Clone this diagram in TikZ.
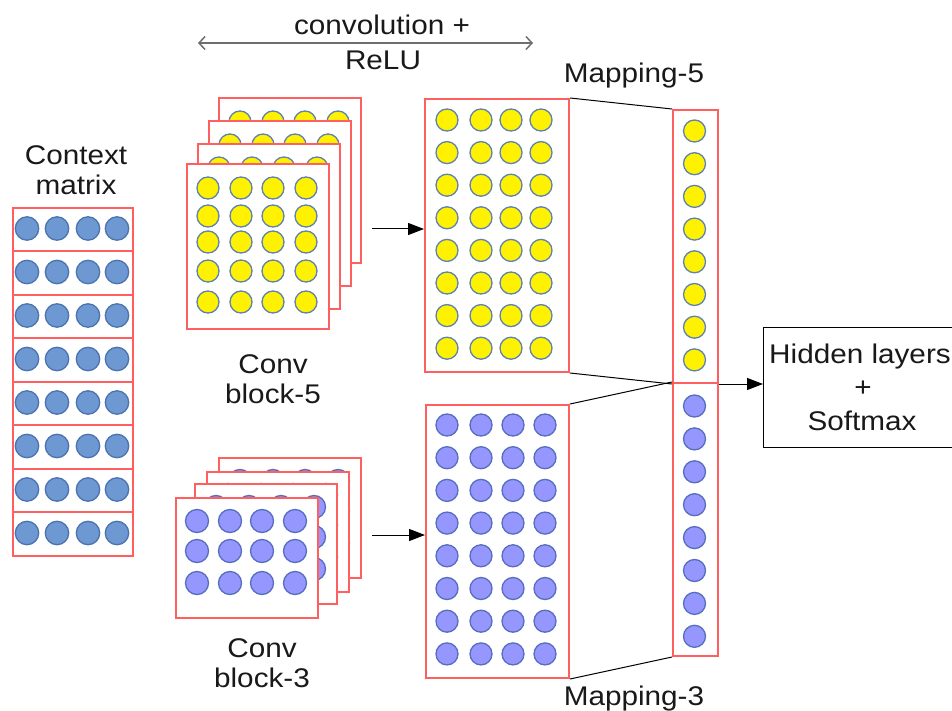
\documentclass[tikz,border=0pt]{standalone}
\usepackage{fontspec}
\setmainfont{Liberation Sans}[FakeStretch=1.1]
\usetikzlibrary{arrows.meta}
\definecolor{boxred}{RGB}{255,95,95}
\definecolor{cborder}{RGB}{95,130,175}
\definecolor{ctxblue}{RGB}{110,152,210}
\definecolor{ctxborder}{RGB}{75,115,175}
\definecolor{purp}{RGB}{150,150,255}
\definecolor{purpborder}{RGB}{85,110,190}
\definecolor{arrgray}{RGB}{110,110,110}
\tikzset{
  redbox/.style={draw=boxred, line width=2pt, fill=white, inner sep=0pt, anchor=north west},
  ycirc/.style={fill=yellow, draw=cborder, line width=1.3pt},
  bcirc/.style={fill=ctxblue, draw=ctxborder, line width=1.3pt},
  pcirc/.style={fill=purp, draw=purpborder, line width=1.3pt},
  lbl/.style={font=\fontsize{27}{30}\selectfont, anchor=base, inner sep=0pt, text=black!90},
  conn/.style={draw=black, line width=1pt},
  tip/.style={-{Triangle[length=16pt,width=12pt]}},
}
\begin{document}
\begin{tikzpicture}[x=1pt,y=-1pt]
\useasboundingbox (0,0) rectangle (952,711);

% ---- Context matrix ----
\foreach \i/\t/\h in {0/207/43,1/250/44,2/294/43,3/337/44,4/381/43,5/424/44,6/468/43,7/511/44} {
  \node[redbox, fill=none, minimum width=120pt, minimum height=\h pt] (ctx\i) at (12,\t) {};
  \foreach \cx in {27,57,88,117}
    \draw[bcirc] (\cx,{\t+\h/2}) circle[radius=11.7pt];
}
\node[lbl] (ctxlblA) at (76,165) {Context};
\node[lbl] (ctxlblB) at (76,195) {matrix};

% ---- Conv block-5 ----
\foreach \k/\lx/\ty in {3/218/97, 2/208/120, 1/197/143, 0/186/163} {
  \node[redbox, minimum width=142pt, minimum height=165pt] (cbf\k) at (\lx,\ty) {};
  \foreach \rx in {22,55,87,120}
    \foreach \ry in {25,53,79,108,139}
      \draw[ycirc] ({\lx+\rx},{\ty+\ry}) circle[radius=11pt];
}
\node[lbl] (cbflblA) at (273,373) {Conv};
\node[lbl] (cbflblB) at (273,403) {block-5};

% ---- Conv block-3 ----
\foreach \k/\lx/\ty in {3/218/457, 2/206/471, 1/194/483, 0/175/497} {
  \node[redbox, minimum width=142pt, minimum height=120pt] (cbt\k) at (\lx,\ty) {};
  \foreach \rx in {22,55,87,120}
    \foreach \ry in {24,54,86}
      \draw[pcirc] ({\lx+\rx},{\ty+\ry}) circle[radius=11.5pt];
}
\node[lbl] (cbtlblA) at (262,657) {Conv};
\node[lbl] (cbtlblB) at (262,687) {block-3};

% ---- Mapping-5 ----
\node[redbox, minimum width=144pt, minimum height=273pt] (mfbig) at (424,98) {};
\foreach \cx in {447,481,511,541}
  \foreach \i in {0,...,7}
    \draw[ycirc] (\cx,{120+32.6*\i}) circle[radius=11pt];
\node[redbox, minimum width=45pt, minimum height=273pt] (mfcol) at (672,109) {};
\foreach \i in {0,...,7}
  \draw[ycirc] (694.5,{131+32.7*\i}) circle[radius=11pt];
\node[lbl] (mflbl) at (634,83) {Mapping-5};

% ---- Mapping-3 ----
\node[redbox, minimum width=143pt, minimum height=273pt] (mtbig) at (425,404) {};
\foreach \cx in {447,481,513,545}
  \foreach \i in {0,...,7}
    \draw[pcirc] (\cx,{425+32.7*\i}) circle[radius=11pt];
\node[redbox, minimum width=45pt, minimum height=273pt] (mtcol) at (672,382) {};
\foreach \i in {0,...,7}
  \draw[pcirc] (694.5,{406+32.9*\i}) circle[radius=11pt];
\node[lbl] (mtlbl) at (634,705) {Mapping-3};

% ---- connectors between mappings ----
\draw[conn] (mfbig.north east) -- (mfcol.north west);
\draw[conn] (mfbig.south east) -- (mfcol.south west);
\draw[conn] (mtbig.north east) -- (mtcol.north west);
\draw[conn] (mtbig.south east) -- (mtcol.south west);

% ---- Hidden layers box ----
\node[draw=black, line width=1pt, fill=white, minimum width=200pt, minimum height=120pt,
      anchor=north west, inner sep=0pt] (hidden) at (763,327) {};
\node[lbl] (hidA) at (860,363) {Hidden layers};
\node[lbl] (hidB) at (863,396.5) {+};
\node[lbl] (hidC) at (862,430) {Softmax};
\draw[conn, tip] (mfcol.south east) -- (mfcol.south east -| hidden.west);

% ---- arrows from conv blocks ----
\coordinate (afs) at (372,229);
\draw[conn, tip] (afs) -- (afs -| mfbig.west);
\coordinate (ats) at (372,535);
\draw[conn, tip] (ats) -- (ats -| mtbig.west);

% ---- convolution + ReLU ----
\coordinate (cvl) at (198,43);
\coordinate (cvr) at (533,43);
\draw[arrgray, line width=1.5pt, {Straight Barb[length=6pt,width=13pt]}-{Straight Barb[length=6pt,width=13pt]}] (cvl) -- (cvr);
\node[lbl] (cvA) at (382,35) {convolution +};
\node[lbl] (cvB) at (383,70) {ReLU};
\end{tikzpicture}
\end{document}
